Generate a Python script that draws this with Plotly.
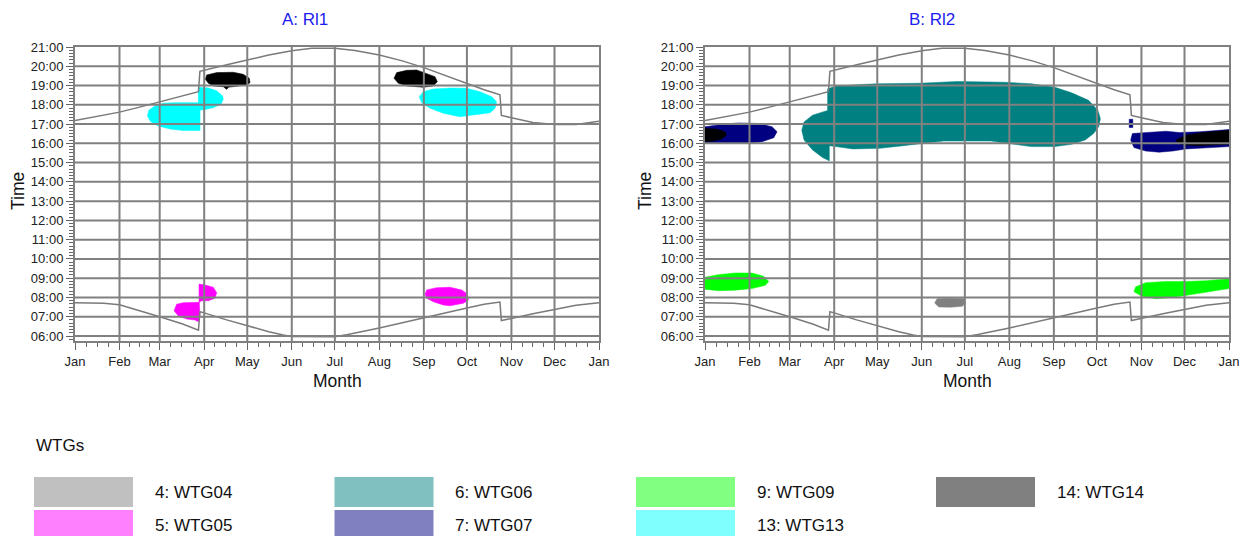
import plotly.graph_objects as go

# ---------------- data ----------------
MONTH_LABELS = ["Jan", "Feb", "Mar", "Apr", "May", "Jun", "Jul", "Aug", "Sep", "Oct", "Nov", "Dec", "Jan"]
MONTH_START_DAYS = [0, 31, 59, 90, 120, 151, 181, 212, 243, 273, 304, 334, 365]
HOUR_TICKS = [6, 7, 8, 9, 10, 11, 12, 13, 14, 15, 16, 17, 18, 19, 20, 21]
HOUR_LABELS = ["06:00", "07:00", "08:00", "09:00", "10:00", "11:00", "12:00", "13:00",
               "14:00", "15:00", "16:00", "17:00", "18:00", "19:00", "20:00", "21:00"]

SUNSET_DAY = [0, 15, 31, 45, 59, 75, 86, 87, 90, 105, 120, 135, 151, 165, 181, 195, 212,
              228, 243, 258, 273, 285, 296, 297, 304, 319, 334, 349, 365]
SUNSET_HOUR = [17.18, 17.38, 17.62, 17.88, 18.16, 18.45, 18.68, 19.74, 19.80, 20.07, 20.32,
               20.58, 20.80, 20.93, 20.93, 20.82, 20.58, 20.28, 19.93, 19.52, 19.10, 18.78,
               18.52, 17.45, 17.33, 17.08, 16.98, 16.98, 17.15]
SUNRISE_DAY = [0, 20, 31, 45, 59, 75, 86, 87, 90, 105, 120, 135, 145, 151, 181, 190, 212,
               228, 243, 258, 273, 285, 296, 297, 304, 319, 334, 349, 365]
SUNRISE_HOUR = [7.72, 7.70, 7.62, 7.33, 7.00, 6.62, 6.30, 7.26, 7.20, 6.85, 6.52, 6.22, 6.05,
                5.97, 5.96, 6.08, 6.42, 6.68, 6.95, 7.20, 7.45, 7.65, 7.76, 6.80, 6.90, 7.15,
                7.38, 7.60, 7.72]

# Receptor A: Rl1 — shadow areas (day of year, hour of day)
A_WTG13_SPRING_DAY = [85.9, 92.9, 98.7, 102.6, 103.3, 101.7, 96.3, 90.6, 87.1, 87.1, 75.4, 66.2,
                      58.0, 52.7, 50.4, 51.5, 55.7, 61.5, 68.5, 85.9]
A_WTG13_SPRING_HOUR = [18.91, 18.87, 18.73, 18.47, 18.29, 18.03, 17.85, 17.75, 17.73, 16.66,
                       16.66, 16.74, 16.90, 17.12, 17.42, 17.73, 17.94, 18.08, 18.11, 18.11]
A_WTG13_AUTUMN_DAY = [242.6, 249.6, 261.2, 272.8, 282.1, 290.3, 293.7, 292.6, 289.1, 277.5,
                      268.2, 256.5, 247.3, 241.5, 239.8]
A_WTG13_AUTUMN_HOUR = [18.68, 18.82, 18.87, 18.86, 18.68, 18.42, 18.16, 17.82, 17.59, 17.47,
                       17.38, 17.56, 17.82, 18.11, 18.42]
A_WTG14_SPRING_DAY = [91.7, 98.7, 110.3, 117.2, 121.4, 121.9, 119.6, 112.6, 106.8, 105.7,
                      103.3, 96.3, 92.9, 90.8]
A_WTG14_SPRING_HOUR = [19.55, 19.67, 19.69, 19.58, 19.38, 19.15, 19.03, 18.98, 18.91, 18.80,
                       18.94, 18.98, 19.12, 19.32]
A_WTG14_AUTUMN_DAY = [224.1, 231.1, 238.0, 245.0, 250.8, 252.4, 249.6, 242.6, 231.1, 225.2, 222.2]
A_WTG14_AUTUMN_HOUR = [19.67, 19.79, 19.81, 19.63, 19.46, 19.20, 18.98, 18.91, 18.98, 19.12, 19.38]
A_WTG05_MARCH_DAY = [70.8, 75.4, 86.6, 87.1, 85.9, 83.6, 77.8, 72.0, 69.0]
A_WTG05_MARCH_HOUR = [7.65, 7.73, 7.75, 7.00, 6.74, 6.83, 6.88, 7.04, 7.31]
A_WTG05_APRIL_DAY = [86.4, 90.6, 96.3, 98.7, 97.5, 92.9, 88.3, 86.4]
A_WTG05_APRIL_HOUR = [8.70, 8.65, 8.53, 8.25, 7.96, 7.83, 7.83, 7.75]
A_WTG05_AUTUMN_DAY = [245.0, 251.9, 261.2, 269.4, 273.3, 274.0, 270.5, 261.2, 256.5, 249.6,
                      245.0, 243.8]
A_WTG05_AUTUMN_HOUR = [8.39, 8.51, 8.53, 8.39, 8.18, 7.87, 7.70, 7.57, 7.61, 7.78, 7.96, 8.18]

# Receptor B: Rl2 — shadow areas
B_WTG06_DAY = [85.4, 91.3, 103.0, 119.4, 149.9, 175.7, 208.5, 227.3, 243.7, 255.4, 267.2, 273.7,
               275.4, 274.2, 270.7, 264.8, 255.4, 243.7, 227.3, 208.5, 199.2, 166.3, 149.9, 138.2,
               121.8, 103.0, 91.3, 86.6, 86.6, 81.9, 74.9, 69.0, 67.4, 69.0, 74.9, 81.9, 85.4]
B_WTG06_HOUR = [18.83, 18.97, 19.03, 19.09, 19.12, 19.21, 19.17, 19.09, 18.91, 18.62, 18.23,
                17.71, 17.28, 16.86, 16.51, 16.17, 15.95, 15.83, 15.83, 16.05, 16.12, 16.12,
                16.00, 15.88, 15.74, 15.71, 15.83, 15.88, 15.09, 15.26, 15.66, 16.17, 16.68,
                17.11, 17.46, 17.63, 17.71]
B_WTG07_WINTER_DAY = [0, 11.5, 23.3, 37.3, 46.7, 50.2, 47.9, 39.7, 30.3, 0]
B_WTG07_WINTER_HOUR = [16.86, 16.98, 17.06, 17.03, 16.86, 16.60, 16.29, 16.08, 16.00, 16.00]
B_WTG07_OCT_DAY = [295.5, 298.0, 298.0, 295.5]
B_WTG07_OCT_HOUR = [17.25, 17.25, 16.82, 16.82]
B_WTG07_LATE_DAY = [297.7, 309.4, 321.1, 330.5, 344.6, 358.6, 365, 365, 349.2, 335.1, 325.8,
                    316.4, 307.0, 298.8, 296.5]
B_WTG07_LATE_HOUR = [16.51, 16.56, 16.63, 16.56, 16.60, 16.68, 16.72, 15.83, 15.78, 15.71,
                     15.60, 15.54, 15.60, 15.78, 16.17]
B_WTG14_WINTER_DAY = [0, 8.0, 13.9, 15.0, 11.5, 5.6, 0]
B_WTG14_WINTER_HOUR = [16.77, 16.74, 16.60, 16.43, 16.22, 16.12, 16.08]
B_WTG14_LATE_DAY = [328.1, 335.1, 346.9, 358.6, 365, 365, 356.3, 344.6, 335.1, 329.3]
B_WTG14_LATE_HOUR = [16.17, 16.43, 16.56, 16.63, 16.68, 15.95, 15.91, 15.88, 15.91, 16.00]
B_WTG09_WINTER_DAY = [0, 9.2, 21.0, 32.6, 40.8, 44.4, 42.0, 32.6, 21.0, 9.2, 0]
B_WTG09_WINTER_HOUR = [9.05, 9.18, 9.27, 9.27, 9.10, 8.83, 8.63, 8.46, 8.38, 8.35, 8.43]
B_WTG09_LATE_DAY = [300.0, 307.0, 321.1, 335.1, 349.2, 365, 365, 354.0, 339.9, 325.8, 314.1,
                    304.7, 298.8]
B_WTG09_LATE_HOUR = [8.55, 8.77, 8.83, 8.83, 8.87, 8.97, 8.46, 8.33, 8.16, 8.00, 7.93, 8.05, 8.30]
B_WTG04_JUNE_DAY = [161.6, 171.0, 180.4, 181.6, 179.2, 171.0, 162.8, 160.0]
B_WTG04_JUNE_HOUR = [7.93, 7.96, 7.93, 7.71, 7.54, 7.49, 7.51, 7.71]

WTG_LABELS = ["4: WTG04", "5: WTG05", "6: WTG06", "7: WTG07", "9: WTG09", "13: WTG13", "14: WTG14"]
WTG_LEGEND_COLORS = ["#c0c0c0", "#ff80ff", "#80c0c0", "#8080c0", "#80ff80", "#80ffff", "#808080"]
WTG_PLOT_COLORS = ["#808080", "#ff00ff", "#008080", "#000080", "#00ff00", "#00ffff", "#000000"]
PANEL_TITLES = ["A: Rl1", "B: Rl2"]

# ---------------- figure ----------------
# the page body has an 8px margin: the figure occupies window pixels 8..1254 x 8..536
OFF = 8
W, H = 1254 - OFF, 536 - OFF
def px(xp):
    return (xp - OFF) / W
def py(yp):
    return 1 - (yp - OFF) / H

col = {lab.split(": ")[1]: c for lab, c in zip(WTG_LABELS, WTG_PLOT_COLORS)}

panel_a = [
    (A_WTG13_SPRING_DAY, A_WTG13_SPRING_HOUR, "WTG13"),
    (A_WTG13_AUTUMN_DAY, A_WTG13_AUTUMN_HOUR, "WTG13"),
    (A_WTG14_SPRING_DAY, A_WTG14_SPRING_HOUR, "WTG14"),
    (A_WTG14_AUTUMN_DAY, A_WTG14_AUTUMN_HOUR, "WTG14"),
    (A_WTG05_MARCH_DAY, A_WTG05_MARCH_HOUR, "WTG05"),
    (A_WTG05_APRIL_DAY, A_WTG05_APRIL_HOUR, "WTG05"),
    (A_WTG05_AUTUMN_DAY, A_WTG05_AUTUMN_HOUR, "WTG05"),
]
panel_b = [
    (B_WTG06_DAY, B_WTG06_HOUR, "WTG06"),
    (B_WTG07_WINTER_DAY, B_WTG07_WINTER_HOUR, "WTG07"),
    (B_WTG07_OCT_DAY, B_WTG07_OCT_HOUR, "WTG07"),
    (B_WTG07_LATE_DAY, B_WTG07_LATE_HOUR, "WTG07"),
    (B_WTG14_WINTER_DAY, B_WTG14_WINTER_HOUR, "WTG14"),
    (B_WTG14_LATE_DAY, B_WTG14_LATE_HOUR, "WTG14"),
    (B_WTG09_WINTER_DAY, B_WTG09_WINTER_HOUR, "WTG09"),
    (B_WTG09_LATE_DAY, B_WTG09_LATE_HOUR, "WTG09"),
    (B_WTG04_JUNE_DAY, B_WTG04_JUNE_HOUR, "WTG04"),
]

fig = go.Figure()
GRID = "#808080"
FONT = "Liberation Sans, Arial, sans-serif"

for xa, ya, panel in (("x", "y", panel_a), ("x2", "y2", panel_b)):
    for days, hours, wtg in panel:
        fig.add_trace(go.Scatter(
            x=list(days) + [days[0]], y=list(hours) + [hours[0]], xaxis=xa, yaxis=ya,
            mode="lines", fill="toself", fillcolor=col[wtg],
            line=dict(color=col[wtg], width=0.5), hoverinfo="skip", showlegend=False))
    for d, h in ((SUNSET_DAY, SUNSET_HOUR), (SUNRISE_DAY, SUNRISE_HOUR)):
        fig.add_trace(go.Scatter(x=d, y=h, xaxis=xa, yaxis=ya, mode="lines",
                                 line=dict(color="#7a7a7a", width=1.5),
                                 hoverinfo="skip", showlegend=False))

# minor x tick positions: quarter months
minor_x = []
for a, b in zip(MONTH_START_DAYS[:-1], MONTH_START_DAYS[1:]):
    minor_x += [a + (b - a) * k / 4 for k in (1, 2, 3)]

Y_TOP_PX, Y_BOT_PX = 47, 341
HOUR_PX = (336 - 47) / 15.0
y_bottom = 21 - (Y_BOT_PX - Y_TOP_PX) / HOUR_PX
ydom = [py(Y_BOT_PX), py(Y_TOP_PX)]

common_x = dict(range=[0, 365], tickmode="array", tickvals=MONTH_START_DAYS, ticktext=MONTH_LABELS,
                showgrid=False, zeroline=False, showline=True, mirror=True, linecolor=GRID,
                linewidth=2, ticks="outside", ticklen=7, tickwidth=1, tickcolor="#666666",
                tickfont=dict(family=FONT, size=13, color="#222222"), automargin=False,
                minor=dict(tickmode="array", tickvals=minor_x, ticks="outside", ticklen=4,
                           tickcolor="#666666", showgrid=False),
                fixedrange=True)
common_y = dict(range=[y_bottom, 21], tickmode="array", tickvals=HOUR_TICKS, ticktext=HOUR_LABELS,
                showgrid=False, zeroline=False, showline=True, mirror=True, linecolor=GRID,
                linewidth=2, ticks="outside", ticklen=7, tickwidth=1, tickcolor="#666666",
                tickfont=dict(family=FONT, size=13, color="#222222"), automargin=False,
                minor=dict(dtick=1 / 6, tick0=0, ticks="outside", ticklen=4,
                           tickcolor="#666666", showgrid=False),
                fixedrange=True)

fig.update_layout(
    template="none",
    width=W, height=H, margin=dict(l=0, r=0, t=0, b=0, pad=0), autosize=False,
    paper_bgcolor="white", plot_bgcolor="white", showlegend=False,
    xaxis=dict(domain=[px(75), px(599)], anchor="y", **common_x),
    yaxis=dict(domain=ydom, anchor="x", **common_y),
    xaxis2=dict(domain=[px(705), px(1229)], anchor="y2", **common_x),
    yaxis2=dict(domain=ydom, anchor="x2", **common_y),
)

shapes = []
for xr, yr in (("x", "y"), ("x2", "y2")):
    for d in MONTH_START_DAYS[1:-1]:
        shapes.append(dict(type="line", xref=xr, yref=yr + " domain", x0=d, x1=d, y0=0, y1=1,
                           line=dict(color=GRID, width=2), layer="above"))
    for h in HOUR_TICKS[:-1]:
        shapes.append(dict(type="line", xref=xr + " domain", yref=yr, x0=0, x1=1, y0=h, y1=h,
                           line=dict(color=GRID, width=2), layer="above"))

annotations = []
for title, cx, tx, mx in ((PANEL_TITLES[0], 305, 18, 337), (PANEL_TITLES[1], 932, 645, 967)):
    annotations.append(dict(text=title, x=px(cx), y=py(20), xref="paper", yref="paper",
                            showarrow=False, xanchor="center", yanchor="middle",
                            font=dict(family=FONT, size=17, color="#1c1cf0")))
    annotations.append(dict(text="Time", x=px(tx), y=py(191), xref="paper", yref="paper",
                            showarrow=False, textangle=-90, xanchor="center", yanchor="middle",
                            font=dict(family=FONT, size=17.5, color="#111111")))
    annotations.append(dict(text="Month", x=px(mx), y=py(381), xref="paper", yref="paper",
                            showarrow=False, xanchor="center", yanchor="middle",
                            font=dict(family=FONT, size=17.5, color="#111111")))

annotations.append(dict(text="WTGs", x=px(34), y=py(445), xref="paper", yref="paper",
                        showarrow=False, xanchor="left", yanchor="middle",
                        font=dict(family=FONT, size=17, color="#111111")))

# legend grid (column-major, 2 rows)
col_x = [34, 334.5, 636, 936]
row_y = [477, 510]
for i, (lab, c) in enumerate(zip(WTG_LABELS, WTG_LEGEND_COLORS)):
    ci, ri = i // 2, i % 2
    x0 = col_x[ci]
    y0 = row_y[ri]
    shapes.append(dict(type="rect", xref="paper", yref="paper", x0=px(x0), x1=px(x0 + 99),
                       y0=py(y0 + 30), y1=py(y0), fillcolor=c, line=dict(width=0), layer="above"))
    annotations.append(dict(text=lab, x=px(x0 + 118.5), y=py(y0 + 15), xref="paper", yref="paper",
                            showarrow=False, xanchor="left", yanchor="middle",
                            font=dict(family=FONT, size=17, color="#111111")))

fig.update_layout(shapes=shapes, annotations=annotations)
fig.write_html("out.html")
